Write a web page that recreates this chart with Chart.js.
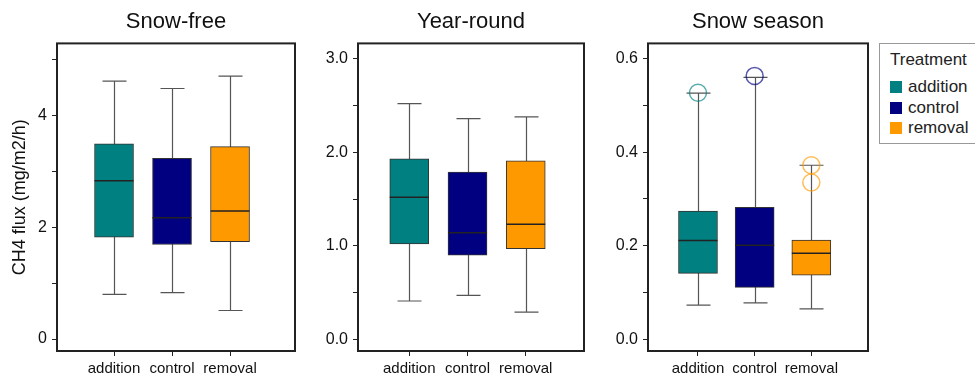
<!DOCTYPE html>
<html>
<head>
<meta charset="utf-8">
<script src="https://cdn.jsdelivr.net/npm/chart.js@4.4.1/dist/chart.umd.min.js"></script>
<style>
body{margin:0;background:#fff;width:975px;height:378px;position:relative;overflow:hidden;font-family:"Liberation Sans",Arial,sans-serif;color:#222;}
canvas{position:absolute;top:0;}
#legend{position:absolute;left:879px;top:43px;width:110px;height:101px;border:1px solid #999;box-sizing:border-box;font-size:17px;}
#legend .t{position:absolute;left:10px;top:6px;}
#legend .row{position:absolute;left:10px;height:20px;line-height:20px;white-space:nowrap;}
#legend .sw{display:inline-block;width:12px;height:12px;vertical-align:-1px;margin-right:6px;}
</style>
</head>
<body>
<canvas id="c1" width="300" height="378" style="left:0"></canvas>
<canvas id="c2" width="280" height="378" style="left:310px"></canvas>
<canvas id="c3" width="278" height="378" style="left:600px"></canvas>
<div id="legend"><span class="t">Treatment</span></div>
<script>
// data
const categories = ['addition', 'control', 'removal'];
const colors = ['#008080', '#000080', '#ff9900'];

// Snow-free
const sfLow = [0.80, 0.83, 0.51];
const sfQ1 = [1.82, 1.69, 1.74];
const sfMed = [2.83, 2.17, 2.29];
const sfQ3 = [3.49, 3.23, 3.44];
const sfHigh = [4.61, 4.48, 4.70];
const sfTicks = [0, 1, 2, 3, 4, 5];
const sfTickLabels = ['0', '', '2', '', '4', ''];

// Year-round
const yrLow = [0.41, 0.47, 0.29];
const yrQ1 = [1.02, 0.90, 0.97];
const yrMed = [1.52, 1.14, 1.23];
const yrQ3 = [1.93, 1.79, 1.91];
const yrHigh = [2.52, 2.36, 2.38];
const yrTicks = [0, 0.5, 1, 1.5, 2, 2.5, 3];
const yrTickLabels = ['0.0', '', '1.0', '', '2.0', '', '3.0'];

// Snow season
const ssLow = [0.073, 0.078, 0.065];
const ssQ1 = [0.141, 0.111, 0.137];
const ssMed = [0.211, 0.201, 0.184];
const ssQ3 = [0.274, 0.282, 0.212];
const ssHigh = [0.526, 0.560, 0.372];
const ssOutX = [1, 2, 3, 3];
const ssOutY = [0.527, 0.563, 0.372, 0.335];
const ssTicks = [0, 0.1, 0.2, 0.3, 0.4, 0.5, 0.6];
const ssTickLabels = ['0.0', '', '0.2', '', '0.4', '', '0.6'];

const catPos = [1, 2, 3];
const FONT = '"Liberation Sans", Arial, sans-serif';

function fade(hex, a) {
    const n = parseInt(hex.slice(1), 16);
    return 'rgba(' + (n >> 16) + ',' + ((n >> 8) & 255) + ',' + (n & 255) + ',' + a + ')';
}

function makePanel(id, title, low, q1, med, q3, high, outX, outY, ticks, tickLabels, yMin, yMax, xMin, xMax, yWidth, padRight, yTitle) {
    const boxPlugin = {
        id: 'boxlines',
        beforeDatasetsDraw(chart) {
            const {ctx, scales: {x, y}} = chart;
            ctx.save();
            ctx.strokeStyle = '#555';
            ctx.lineWidth = 1.2;
            for (let i = 0; i < catPos.length; i++) {
                const px = Math.round(x.getPixelForValue(catPos[i])) + 0.5;
                const yl = y.getPixelForValue(low[i]), yh = y.getPixelForValue(high[i]);
                ctx.beginPath();
                ctx.moveTo(px, yl); ctx.lineTo(px, yh);
                ctx.moveTo(px - 12, yl); ctx.lineTo(px + 12, yl);
                ctx.moveTo(px - 12, yh); ctx.lineTo(px + 12, yh);
                ctx.stroke();
            }
            ctx.restore();
        },
        afterDatasetsDraw(chart) {
            const {ctx, scales: {x, y}} = chart;
            ctx.save();
            ctx.strokeStyle = '#222';
            ctx.lineWidth = 1.5;
            for (let i = 0; i < catPos.length; i++) {
                const px = x.getPixelForValue(catPos[i]);
                const pm = y.getPixelForValue(med[i]);
                ctx.beginPath();
                ctx.moveTo(px - 19.5, pm); ctx.lineTo(px + 19.5, pm);
                ctx.stroke();
            }
            const a = chart.chartArea;
            ctx.strokeStyle = '#222';
            ctx.lineWidth = 2;
            ctx.strokeRect(a.left, a.top, a.right - a.left, a.bottom - a.top);
            ctx.restore();
        }
    };

    const datasets = [{
        type: 'bar',
        data: catPos.map((p, i) => ({x: p, y: [q1[i], q3[i]]})),
        backgroundColor: colors,
        borderColor: '#333',
        borderWidth: 1,
        borderSkipped: false,
        barThickness: 39
    }];
    if (outX.length) {
        datasets.push({
            type: 'scatter',
            data: outX.map((p, i) => ({x: p, y: outY[i]})),
            pointStyle: 'circle',
            pointRadius: 8.5,
            pointBackgroundColor: 'rgba(0,0,0,0)',
            pointBorderColor: outX.map(p => fade(colors[p - 1], 0.65)),
            pointBorderWidth: 1.5
        });
    }

    new Chart(document.getElementById(id), {
        type: 'bar',
        data: {datasets: datasets},
        options: {
            responsive: false,
            animation: false,
            devicePixelRatio: 1,
            layout: {padding: {left: 0, right: padRight, top: 0, bottom: 0}},
            plugins: {
                legend: {display: false},
                tooltip: {enabled: false},
                title: {
                    display: true,
                    text: title,
                    fullSize: false,
                    color: '#111',
                    font: {family: FONT, size: 22, weight: 'normal'},
                    padding: {top: 9, bottom: 8}
                }
            },
            scales: {
                x: {
                    type: 'linear',
                    min: xMin,
                    max: xMax,
                    offset: false,
                    afterBuildTicks: s => { s.ticks = catPos.map(v => ({value: v})); },
                    afterFit: s => { s.height = 27; },
                    grid: {display: true, offset: false, drawOnChartArea: false, tickLength: 5, tickColor: '#222'},
                    border: {display: false},
                    ticks: {
                        color: '#111',
                        padding: 4,
                        maxRotation: 0,
                        font: {family: FONT, size: 15},
                        callback: (v, i) => categories[i]
                    }
                },
                y: {
                    type: 'linear',
                    min: yMin,
                    max: yMax,
                    afterBuildTicks: s => { s.ticks = ticks.map(v => ({value: v})); },
                    afterFit: s => { s.width = yWidth; },
                    grid: {display: true, drawOnChartArea: false, tickLength: 5, tickColor: '#222'},
                    border: {display: false},
                    ticks: {
                        color: '#111',
                        padding: 5,
                        font: {family: FONT, size: 16},
                        callback: (v, i) => tickLabels[i]
                    },
                    title: {
                        display: !!yTitle,
                        text: yTitle,
                        color: '#111',
                        font: {family: FONT, size: 18},
                        padding: {top: 9, bottom: 0}
                    }
                }
            }
        },
        plugins: [boxPlugin]
    });
}

makePanel('c1', 'Snow-free', sfLow, sfQ1, sfMed, sfQ3, sfHigh, [], [], sfTicks, sfTickLabels,
    -0.214, 5.286, 0.017, 4.12, 57, 5, 'CH4 flux (mg/m2/h)');
makePanel('c2', 'Year-round', yrLow, yrQ1, yrMed, yrQ3, yrHigh, [], [], yrTicks, yrTickLabels,
    -0.125, 3.165, 0.12, 4.0, 48, 6, '');
makePanel('c3', 'Snow season', ssLow, ssQ1, ssMed, ssQ3, ssHigh, ssOutX, ssOutY, ssTicks, ssTickLabels,
    -0.025, 0.6325, 0.118, 4.0, 48, 5, '');

// legend
const legend = document.getElementById('legend');
categories.forEach((c, i) => {
    const row = document.createElement('div');
    row.className = 'row';
    row.style.top = (33 + i * 20.5) + 'px';
    row.innerHTML = '<span class="sw" style="background:' + colors[i] + '"></span>' + c;
    legend.appendChild(row);
});
</script>
</body>
</html>
